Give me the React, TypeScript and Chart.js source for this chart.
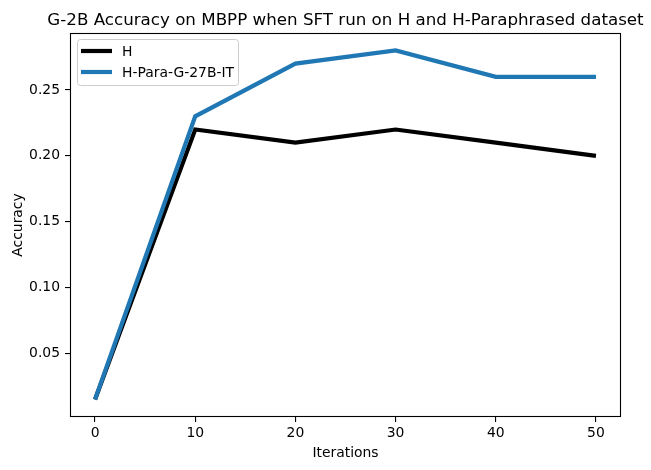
import React, { useEffect, useRef } from "react";
import { Chart, registerables } from "chart.js";

Chart.register(...registerables);

const iterations = [0, 10, 20, 30, 40, 50];
const seriesH = [0.015, 0.22, 0.21, 0.22, 0.21, 0.2];
const seriesPara = [0.015, 0.23, 0.27, 0.28, 0.26, 0.26];
const xTicks = [0, 10, 20, 30, 40, 50];
const yTicks = [0.05, 0.1, 0.15, 0.2, 0.25];
const seriesNames = ["H", "H-Para-G-27B-IT"];
const titleText = "G-2B Accuracy on MBPP when SFT run on H and H-Paraphrased dataset";
const xLabel = "Iterations";
const yLabel = "Accuracy";

const FONT = "'DejaVu Sans', sans-serif";

export default function App() {
  const ref = useRef<HTMLCanvasElement>(null);

  useEffect(() => {
    const canvas = ref.current;
    if (!canvas) return;
    const colors = ["#000000", "#1f77b4"];

    const decor = {
      id: "decor",
      afterDraw(chart: any) {
        const ctx = chart.ctx;
        const a = chart.chartArea;
        ctx.save();
        // frame
        ctx.strokeStyle = "#000";
        ctx.lineWidth = 1.1;
        ctx.strokeRect(a.left + 0.5, a.top + 0.5, a.right - a.left - 1, a.bottom - a.top - 1);
        // title
        ctx.fillStyle = "#000";
        ctx.font = `16.7px ${FONT}`;
        ctx.textAlign = "center";
        ctx.textBaseline = "alphabetic";
        ctx.fillText(titleText, (a.left + a.right) / 2, 25);
        // x label
        ctx.font = `13.9px ${FONT}`;
        ctx.fillText(xLabel, (a.left + a.right) / 2, 457);
        // y label
        ctx.save();
        ctx.translate(22, (a.top + a.bottom) / 2);
        ctx.rotate(-Math.PI / 2);
        ctx.fillText(yLabel, 0, 0);
        ctx.restore();
        // legend
        const lx = 77, ly = 39, lw = 161, lh = 46, r = 3;
        ctx.globalAlpha = 0.8;
        ctx.fillStyle = "#fff";
        ctx.beginPath();
        ctx.roundRect(lx + 0.5, ly + 0.5, lw, lh, r);
        ctx.fill();
        ctx.globalAlpha = 1;
        ctx.strokeStyle = "#cccccc";
        ctx.lineWidth = 1;
        ctx.stroke();
        const rows = [51, 72];
        ctx.textAlign = "left";
        ctx.textBaseline = "middle";
        ctx.font = `13.9px ${FONT}`;
        rows.forEach((yy, i) => {
          ctx.strokeStyle = colors[i];
          ctx.lineWidth = 4.2;
          ctx.lineCap = "butt";
          ctx.beginPath();
          ctx.moveTo(81, yy);
          ctx.lineTo(112, yy);
          ctx.stroke();
          ctx.fillStyle = "#000";
          ctx.fillText(seriesNames[i], 122, yy + 1);
        });
        ctx.restore();
      },
    };

    const chart = new Chart(canvas, {
      type: "line",
      data: {
        datasets: [
          {
            label: seriesNames[0],
            data: iterations.map((x, i) => ({ x, y: seriesH[i] })),
            borderColor: colors[0],
            backgroundColor: colors[0],
            borderWidth: 4.2,
            pointRadius: 0,
            tension: 0,
            order: 2,
          },
          {
            label: seriesNames[1],
            data: iterations.map((x, i) => ({ x, y: seriesPara[i] })),
            borderColor: colors[1],
            backgroundColor: colors[1],
            borderWidth: 4.2,
            pointRadius: 0,
            tension: 0,
            order: 1,
          },
        ],
      },
      options: {
        responsive: false,
        animation: false,
        layout: { padding: { top: 33, right: 30, left: 0, bottom: 0 } },
        plugins: { legend: { display: false }, title: { display: false }, tooltip: { enabled: false } },
        scales: {
          x: {
            type: "linear",
            min: -2.5,
            max: 52.5,
            afterBuildTicks: (s: any) => {
              s.ticks = xTicks.map((v) => ({ value: v }));
            },
            afterFit: (s: any) => {
              s.height = 53;
            },
            ticks: {
              color: "#000",
              font: { family: FONT, size: 13.9 },
              padding: 3,
              maxRotation: 0,
              autoSkip: false,
              callback: (v: any) => String(v),
            },
            grid: { drawOnChartArea: false, drawTicks: true, tickLength: 5, color: "#000", lineWidth: 1.1 },
            border: { display: false },
          },
          y: {
            type: "linear",
            min: 0.00175,
            max: 0.29325,
            afterBuildTicks: (s: any) => {
              s.ticks = yTicks.map((v) => ({ value: v }));
            },
            afterFit: (s: any) => {
              s.width = 70;
            },
            ticks: {
              color: "#000",
              font: { family: FONT, size: 13.9 },
              padding: 5,
              autoSkip: false,
              callback: (v: any) => Number(v).toFixed(2),
            },
            grid: { drawOnChartArea: false, drawTicks: true, tickLength: 5, color: "#000", lineWidth: 1.1 },
            border: { display: false },
          },
        },
      },
      plugins: [decor],
    });
    return () => chart.destroy();
  }, []);

  return (
    <div style={{ position: "absolute", left: 0, top: 0, width: 651, height: 470, background: "#fff" }}>
      <canvas ref={ref} width={651} height={470} style={{ display: "block" }} />
    </div>
  );
}
